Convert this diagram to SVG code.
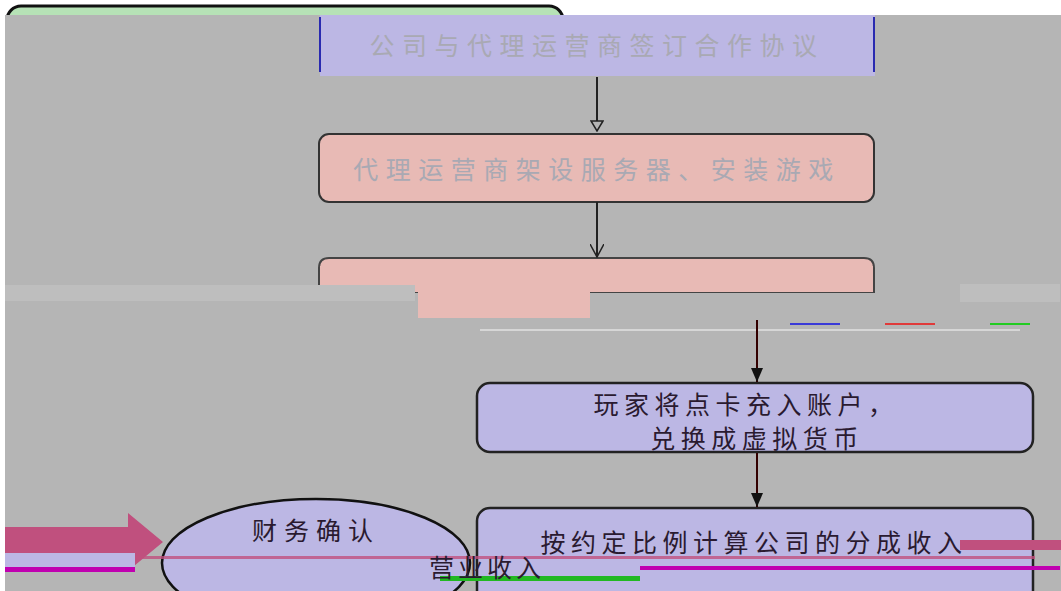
<svg xmlns="http://www.w3.org/2000/svg" width="1061" height="591" viewBox="0 0 1061 591">
<style>
.cjk{font-family:"Noto Sans CJK SC","Liberation Sans",sans-serif;text-anchor:middle;dominant-baseline:central}
.faint{fill:#a9a9b3;font-size:25px;letter-spacing:7.5px}
.dark{fill:#2a1a30;font-size:25px;letter-spacing:5.5px}
.lav{fill:#bcb7e4}
.pink{fill:#e8bab5}
.conn{stroke:#222;stroke-width:2;fill:none}
</style>
<defs>
<marker id="hollow" viewBox="0 0 12 14" refX="11" refY="7" markerWidth="12" markerHeight="14" markerUnits="userSpaceOnUse" orient="auto">
<path d="M1 1 L11 7 L1 13 Z" fill="#b5b5b5" stroke="#222" stroke-width="1.5"/>
</marker>
<marker id="filled" viewBox="0 0 14 12" refX="14" refY="6" markerWidth="14" markerHeight="12" markerUnits="userSpaceOnUse" orient="auto">
<path d="M0 0 L14 6 L0 12 Z" fill="#111"/>
</marker>
<marker id="vee" viewBox="0 0 14 14" refX="13" refY="7" markerWidth="14" markerHeight="14" markerUnits="userSpaceOnUse" orient="auto">
<path d="M0 0 L13 7 L0 14" fill="none" stroke="#222" stroke-width="1.5"/>
</marker>
</defs>
<rect x="0" y="0" width="1061" height="591" fill="#ffffff"/>
<g id="top-frame">
<rect x="7" y="6" width="556" height="60" rx="14" fill="#b6e2b6" stroke="#111" stroke-width="3"/>
</g>
<rect x="5" y="15" width="1056" height="576" fill="#b5b5b5"/>
<g id="node-agreement">
<rect x="320" y="15" width="555" height="61" class="lav"/>
<line x1="320" y1="17" x2="320" y2="72" stroke="#2a2ab0" stroke-width="2"/>
<line x1="874" y1="17" x2="874" y2="72" stroke="#2a2ab0" stroke-width="2"/>
<text x="597" y="44" class="cjk faint">公司与代理运营商签订合作协议</text>
</g>
<g id="node-server">
<rect x="319" y="134" width="555" height="68" rx="10" class="pink" stroke="#333" stroke-width="2"/>
<text x="597" y="168" class="cjk faint">代理运营商架设服务器、安装游戏</text>
</g>
<g id="node-third">
<path d="M319 292 L319 268 Q319 258 329 258 L864 258 Q874 258 874 268 L874 292 Z" class="pink" stroke="#444" stroke-width="2"/>
<rect x="320" y="266" width="553" height="26" class="pink"/>
<rect x="418" y="290" width="172" height="28" class="pink"/>
<rect x="5" y="285" width="410" height="16" fill="#bebebe"/>
<rect x="960" y="284" width="100" height="18" fill="#bebebe"/>
<line x1="480" y1="330" x2="1020" y2="330" stroke="#d6d6d6" stroke-width="2"/>
<line x1="790" y1="324" x2="840" y2="324" stroke="#3a3ad8" stroke-width="2"/>
<line x1="885" y1="324" x2="935" y2="324" stroke="#e03a3a" stroke-width="2"/>
<line x1="990" y1="324" x2="1030" y2="324" stroke="#22cc22" stroke-width="2"/>
</g>
<g id="node-recharge">
<rect x="477" y="383" width="556" height="69" rx="13" class="lav" stroke="#222" stroke-width="2.5"/>
<text x="746" y="403" class="cjk dark">玩家将点卡充入账户，</text>
<text x="757" y="437" class="cjk dark">兑换成虚拟货币</text>
</g>
<g id="node-share">
<rect x="477" y="508" width="556" height="110" rx="13" class="lav" stroke="#222" stroke-width="2.5"/>
<text x="754" y="541" class="cjk dark">按约定比例计算公司的分成收入</text>
</g>
<g id="node-block-arrow">
<polygon points="5,527 128,527 128,513 163,542 128,571 128,557 5,557" fill="#c0507e"/>
</g>
<g id="node-finance">
<ellipse cx="316" cy="563" rx="154" ry="64" class="lav" stroke="#111" stroke-width="2.5"/>
<text x="316" y="529" class="cjk dark" style="letter-spacing:7px">财务确认</text>
</g>
<g id="bands">
<rect x="5" y="553" width="130" height="14" fill="#bcb7e4"/>
<rect x="5" y="567" width="130" height="5" fill="#c000b0"/>
<rect x="135" y="556" width="900" height="3" fill="#c0507e" opacity="0.8"/>
<rect x="440" y="576" width="200" height="5" fill="#22b822"/>
<rect x="640" y="566" width="420" height="4" fill="#c000b0"/>
<rect x="960" y="540" width="101" height="10" fill="#c0507e"/>
<text x="487" y="566" class="cjk dark" style="letter-spacing:4px">营业收入</text>
</g>
<g id="connectors">
<line x1="597" y1="77" x2="597" y2="131" class="conn" marker-end="url(#hollow)"/>
<line x1="597" y1="202" x2="597" y2="257" class="conn" marker-end="url(#vee)"/>
<line x1="757" y1="320" x2="757" y2="382" stroke="#300" stroke-width="2" marker-end="url(#filled)"/>
<line x1="757" y1="453" x2="757" y2="507" stroke="#300" stroke-width="2" marker-end="url(#filled)"/>
</g>
</svg>
